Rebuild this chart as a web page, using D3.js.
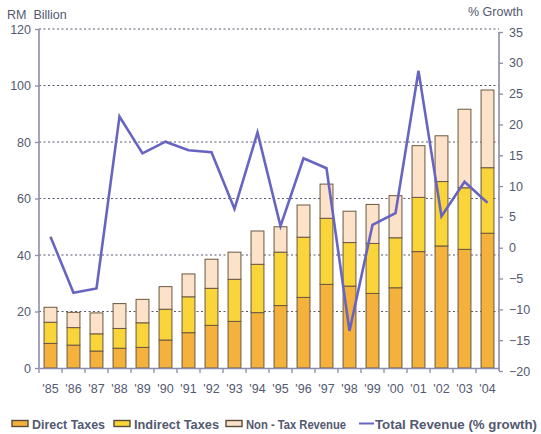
<!DOCTYPE html>
<html>
<head>
<meta charset="utf-8">
<script src="https://cdn.jsdelivr.net/npm/d3@7"></script>
<style>
  body { margin: 0; background: #fff; }
  text { font-family: "Liberation Sans", Arial, sans-serif; }
</style>
</head>
<body>
<div id="chart"></div>
<script>
const years = ["'85","'86","'87","'88","'89","'90","'91","'92","'93","'94","'95","'96","'97","'98","'99","'00","'01","'02","'03","'04"]
const directTaxes   = [8.7, 8.1, 6.0, 7.0, 7.3, 9.9, 12.5, 15.1, 16.5, 19.6, 22.1, 25.0, 29.6, 29.0, 26.4, 28.4, 41.2, 43.2, 42.0, 47.7]
const indirectTaxes = [7.5, 6.2, 6.1, 7.0, 8.7, 10.9, 12.7, 13.1, 14.9, 17.1, 18.9, 21.3, 23.4, 15.4, 17.7, 17.7, 19.2, 22.8, 21.8, 23.2]
const nonTax        = [5.3, 5.4, 7.4, 8.8, 8.3, 8.0, 8.1, 10.3, 9.6, 11.8, 9.0, 11.4, 12.1, 11.1, 13.8, 14.9, 18.3, 16.2, 27.8, 27.5]
const growth        = [1.8, -7.3, -6.6, 21.3, 15.3, 17.2, 15.8, 15.5, 6.3, 18.7, 3.5, 14.5, 12.9, -13.5, 3.7, 5.6, 28.7, 5.1, 10.7, 7.3]
const leftTicks  = [0, 20, 40, 60, 80, 100, 120]
const rightTicks = [-20, -15, -10, -5, 0, 5, 10, 15, 20, 25, 30, 35]

const keys = ["direct", "indirect", "nontax"]
const colors = { direct: "#f4b23c", indirect: "#f9d53a", nontax: "#fbe2c8" }
const textColor = "#535970"
const axisColor = "#8c8cab"

const width = 541, height = 434

const svg = d3.select("#chart").append("svg")
    .attr("width", width)
    .attr("height", height)

const rows = years.map((y, i) => ({ year: y, direct: directTaxes[i], indirect: indirectTaxes[i], nontax: nonTax[i] }))

const x = d3.scaleBand().domain(years).range([39, 499]).paddingInner(0.44).paddingOuter(0.22)
const band = d3.scaleBand().domain(years).range([39, 499])
const yL = d3.scaleLinear().domain([0, 120]).range([368, 29])
const yR = d3.scaleLinear().domain([-20, 35]).range([371, 32])

// grid lines (dotted)
svg.append("g")
  .selectAll("line")
  .data(leftTicks.slice(1))
  .enter()
  .append("line")
    .attr("x1", 39).attr("x2", 499)
    .attr("y1", d => yL(d)).attr("y2", d => yL(d))
    .attr("stroke", "#55576a")
    .attr("stroke-width", 1.1)
    .attr("stroke-dasharray", "2,2.5")

// stacked bars
const stacked = d3.stack().keys(keys)(rows)
svg.append("g")
  .selectAll("g")
  .data(stacked)
  .enter()
  .append("g")
    .attr("fill", d => colors[d.key])
  .selectAll("rect")
  .data(d => d)
  .enter()
  .append("rect")
    .attr("x", d => x(d.data.year))
    .attr("width", x.bandwidth())
    .attr("y", d => yL(d[1]))
    .attr("height", d => yL(d[0]) - yL(d[1]))
    .attr("stroke", "#6a5840")
    .attr("stroke-width", 1)

// growth line
const line = d3.line()
  .x((d, i) => band(years[i]) + band.bandwidth() / 2)
  .y(d => yR(d))
svg.append("path")
  .datum(growth)
  .attr("d", line)
  .attr("fill", "none")
  .attr("stroke", "#6864c2")
  .attr("stroke-width", 2.6)
  .attr("stroke-linejoin", "miter")

// axes
const leftAxis = svg.append("g")
  .attr("transform", "translate(39,0)")
  .call(d3.axisLeft(yL).tickValues(leftTicks).tickSize(4).tickPadding(4))
const rightAxis = svg.append("g")
  .attr("transform", "translate(499,0)")
  .call(d3.axisRight(yR).tickValues(rightTicks).tickSize(4).tickPadding(6))
const bottomAxis = svg.append("g")
  .attr("transform", "translate(0,368)")
  .call(d3.axisBottom(band).tickSize(0).tickPadding(16))

bottomAxis.selectAll(".tick")
  .append("line")
    .attr("x1", -band.bandwidth() / 2).attr("x2", -band.bandwidth() / 2)
    .attr("y1", 0).attr("y2", 5)
    .attr("stroke", axisColor)
    .attr("stroke-width", 1.3)

;[leftAxis, rightAxis, bottomAxis].forEach(a => {
  a.select(".domain").attr("stroke", axisColor).attr("stroke-width", 1.6)
  a.selectAll(".tick line").attr("stroke", axisColor).attr("stroke-width", 1.3)
  a.selectAll("text")
    .attr("fill", textColor)
    .style("font-size", "12.5px")
    .style("font-family", "'Liberation Sans', Arial, sans-serif")
})
leftAxis.select(".domain").attr("d", "M0,368V29")
rightAxis.select(".domain").attr("d", "M0,371V32")

// axis titles
svg.append("text")
  .attr("x", 7).attr("y", 19)
  .attr("fill", textColor)
  .style("font-size", "12.5px")
  .style("white-space", "pre")
  .text("RM  Billion")
svg.append("text")
  .attr("x", 468).attr("y", 16)
  .attr("fill", textColor)
  .style("font-size", "12.5px")
  .text("% Growth")

// legend
const legendItems = [
  { label: "Direct Taxes", key: "direct", x: 12, w: 73 },
  { label: "Indirect Taxes", key: "indirect", x: 114, w: 85 },
  { label: "Non - Tax Revenue", key: "nontax", x: 226, w: 100 }
]
const legend = svg.append("g")
legend.selectAll("rect")
  .data(legendItems)
  .enter()
  .append("rect")
    .attr("x", d => d.x).attr("y", 420.5)
    .attr("width", 16).attr("height", 6)
    .attr("fill", d => colors[d.key])
    .attr("stroke", "#5a4a38")
    .attr("stroke-width", 1.4)
legend.selectAll("text.lg")
  .data(legendItems)
  .enter()
  .append("text")
    .attr("class", "lg")
    .attr("x", d => d.x + 20).attr("y", 428.5)
    .attr("textLength", d => d.w)
    .attr("lengthAdjust", "spacingAndGlyphs")
    .attr("fill", textColor)
    .style("font-size", "12.5px")
    .style("font-weight", "bold")
    .text(d => d.label)
legend.append("line")
  .attr("x1", 359).attr("x2", 374)
  .attr("y1", 423.5).attr("y2", 423.5)
  .attr("stroke", "#6864c2")
  .attr("stroke-width", 2)
legend.append("text")
  .attr("x", 375).attr("y", 428.5)
  .attr("textLength", 162)
  .attr("lengthAdjust", "spacingAndGlyphs")
  .attr("fill", textColor)
  .style("font-size", "12.5px")
  .style("font-weight", "bold")
  .text("Total Revenue (% growth)")
</script>
</body>
</html>
